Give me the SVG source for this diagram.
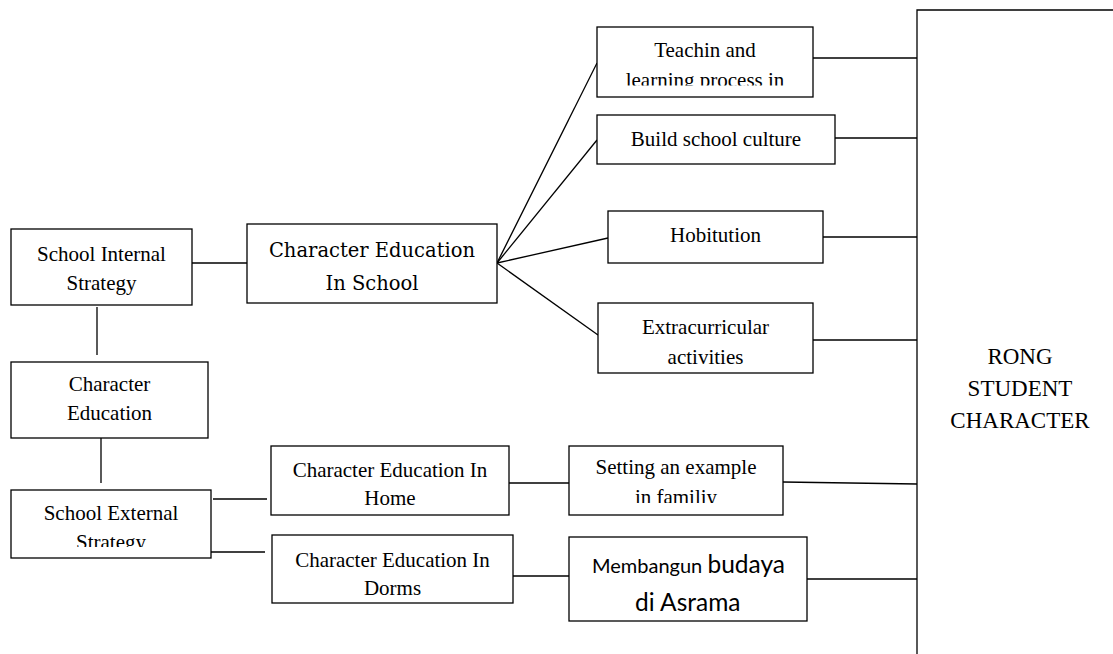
<svg xmlns="http://www.w3.org/2000/svg" width="1113" height="654" viewBox="0 0 1113 654">
<style>
.box{fill:#fff;stroke:#000;stroke-width:1.3}
.ln{fill:none;stroke:#000;stroke-width:1.3}
.t{font-family:"Liberation Serif","Times New Roman",serif;font-size:21px;fill:#000;text-anchor:middle}
.c{font-family:"DejaVu Serif",serif;font-size:19.5px;fill:#000;text-anchor:middle}
.k{font-family:Lato,"Open Sans",sans-serif;fill:#000}
</style>
<defs>
<clipPath id="clipTeach"><rect x="597" y="27" width="216" height="58.5"/></clipPath>
<clipPath id="clipSet"><rect x="569" y="446" width="214" height="57"/></clipPath>
<clipPath id="clipExt"><rect x="11" y="490" width="200" height="57"/></clipPath>
</defs>
<rect width="1113" height="654" fill="#fff"/>
<g id="connectors">
<path class="ln" d="M1113,10 H917 V654"/>
<path class="ln" d="M192,263 H247"/>
<path class="ln" d="M97,307 V355"/>
<path class="ln" d="M101,438 V483"/>
<path class="ln" d="M213,499 H267"/>
<path class="ln" d="M211,552 H265"/>
<path class="ln" d="M509,483 H569"/>
<path class="ln" d="M513,576 H569"/>
<path class="ln" d="M497,263 L597,63"/>
<path class="ln" d="M497,263 L597,140"/>
<path class="ln" d="M497,263 L608,238"/>
<path class="ln" d="M497,263 L598,335"/>
<path class="ln" d="M813,58 H917"/>
<path class="ln" d="M835,138 H917"/>
<path class="ln" d="M823,237 H917"/>
<path class="ln" d="M813,340 H917"/>
<path class="ln" d="M783,482 L917,484"/>
<path class="ln" d="M807,579 H917"/>
</g>
<g id="rong">
<text class="t" style="font-size:23px" x="1020" y="364">RONG</text>
<text class="t" style="font-size:23px" x="1020" y="396">STUDENT</text>
<text class="t" style="font-size:23px" x="1020" y="428">CHARACTER</text>
</g>
<g id="teaching">
<rect class="box" x="597" y="27" width="216" height="70"/>
<g clip-path="url(#clipTeach)">
<text class="t" x="705" y="57">Teachin and</text>
<text class="t" x="705" y="87">learning process in</text>
</g>
</g>
<g id="culture">
<rect class="box" x="597" y="115" width="238" height="49"/>
<text class="t" x="716" y="146">Build school culture</text>
</g>
<g id="hobitution">
<rect class="box" x="608" y="211" width="215" height="52"/>
<text class="t" x="715.5" y="242">Hobitution</text>
</g>
<g id="extracurricular">
<rect class="box" x="598" y="303" width="215" height="70"/>
<text class="t" x="705.5" y="334">Extracurricular</text>
<text class="t" x="705.5" y="364">activities</text>
</g>
<g id="internal">
<rect class="box" x="11" y="229" width="181" height="76"/>
<text class="t" x="101.5" y="261">School Internal</text>
<text class="t" x="101.5" y="290">Strategy</text>
</g>
<g id="school">
<rect class="box" x="247" y="224" width="250" height="79"/>
<text class="c" x="372" y="257">Character Education</text>
<text class="c" x="372" y="290">In School</text>
</g>
<g id="chared">
<rect class="box" x="11" y="362" width="197" height="76"/>
<text class="t" x="109.5" y="391">Character</text>
<text class="t" x="109.5" y="420">Education</text>
</g>
<g id="external">
<rect class="box" x="11" y="490" width="200" height="68"/>
<g clip-path="url(#clipExt)">
<text class="t" x="111" y="520">School External</text>
<text class="t" x="111" y="549">Strategy</text>
</g>
</g>
<g id="home">
<rect class="box" x="271" y="446" width="238" height="69"/>
<text class="t" x="390" y="477">Character Education In</text>
<text class="t" x="390" y="505">Home</text>
</g>
<g id="dorms">
<rect class="box" x="272" y="535" width="241" height="68"/>
<text class="t" x="392.5" y="567">Character Education In</text>
<text class="t" x="392.5" y="595">Dorms</text>
</g>
<g id="setting">
<rect class="box" x="569" y="446" width="214" height="69"/>
<g clip-path="url(#clipSet)">
<text class="t" x="676" y="474">Setting an example</text>
<text class="t" x="676" y="504">in familiy</text>
</g>
</g>
<g id="membangun">
<rect class="box" x="569" y="537" width="238" height="84"/>
<text class="k" x="592" y="573"><tspan style="font-size:20px">Membangun </tspan><tspan style="font-size:24.5px">budaya</tspan></text>
<text class="k" x="635" y="611" style="font-size:24.5px">di Asrama</text>
</g>
</svg>
